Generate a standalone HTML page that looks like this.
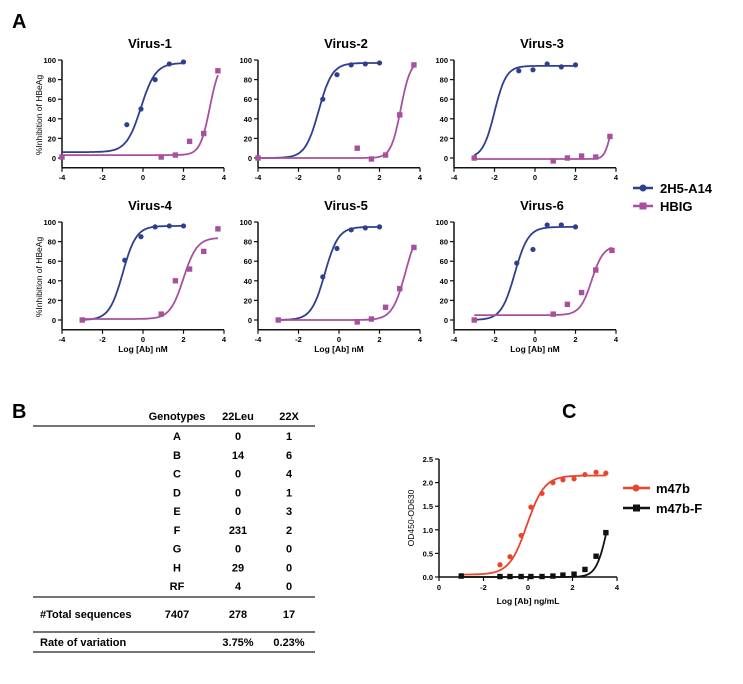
<!DOCTYPE html>
<html><head><meta charset="utf-8"><style>
body{margin:0;background:#fff;font-family:"Liberation Sans",Arial,sans-serif;}
svg text{font-family:"Liberation Sans",Arial,sans-serif;}
</style></head><body>
<svg id="fig" width="743" height="679" viewBox="0 0 743 679" xmlns="http://www.w3.org/2000/svg">
<text x="12" y="28" font-size="20" font-weight="bold">A</text>
<text x="12" y="418" font-size="20" font-weight="bold">B</text>
<text x="562" y="418" font-size="20" font-weight="bold">C</text>
<g id="pa"></g>
<g>
<line x1="633" y1="188" x2="653" y2="188" stroke="#2e3f8f" stroke-width="2.5"/><circle cx="643" cy="188" r="3.5" fill="#2e3f8f"/>
<text x="660" y="193" font-size="13" font-weight="bold">2H5-A14</text>
<line x1="633" y1="206" x2="653" y2="206" stroke="#a8509f" stroke-width="2.5"/><rect x="639.5" y="202.5" width="7" height="7" fill="#a8509f"/>
<text x="660" y="211" font-size="13" font-weight="bold">HBIG</text>
</g>
<g font-size="11" font-weight="bold">
<text x="177" y="420" text-anchor="middle">Genotypes</text><text x="238" y="420" text-anchor="middle">22Leu</text><text x="289" y="420" text-anchor="middle">22X</text>
<line x1="33" y1="426" x2="315" y2="426" stroke="#222" stroke-width="1.3"/>
<g id="rows"></g>
<line x1="33" y1="597" x2="315" y2="597" stroke="#222" stroke-width="1.3"/>
<text x="40" y="618">#Total sequences</text><text x="177" y="618" text-anchor="middle">7407</text><text x="238" y="618" text-anchor="middle">278</text><text x="289" y="618" text-anchor="middle">17</text>
<line x1="33" y1="632" x2="315" y2="632" stroke="#222" stroke-width="1.3"/>
<text x="40" y="646">Rate of variation</text><text x="238" y="646" text-anchor="middle">3.75%</text><text x="289" y="646" text-anchor="middle">0.23%</text>
<line x1="33" y1="652" x2="315" y2="652" stroke="#222" stroke-width="1.3"/>
</g>
<g id="pc"></g>
<g>
<line x1="623" y1="488" x2="650" y2="488" stroke="#e8452c" stroke-width="2.5"/><circle cx="636" cy="488" r="3.5" fill="#e8452c"/>
<text x="656" y="493" font-size="13" font-weight="bold">m47b</text>
<line x1="623" y1="508" x2="650" y2="508" stroke="#111" stroke-width="2.5"/><rect x="633" y="504.5" width="7" height="7" fill="#111"/>
<text x="656" y="513" font-size="13" font-weight="bold">m47b-F</text>
</g>
</svg>
<script>
const NS="http://www.w3.org/2000/svg";
const genotypes=["A","B","C","D","E","F","G","H","RF"];
const leu22=[0,14,0,0,0,231,0,29,4];
const x22=[1,6,4,1,3,2,0,0,0];
const titles=["Virus-1","Virus-2","Virus-3","Virus-4","Virus-5","Virus-6"];
const blueX=[[-0.8,-0.1,0.6,1.3,2.0],[-4,-0.8,-0.1,0.6,1.3,2.0],[-3,-0.8,-0.1,0.6,1.3,2.0],[-3,-0.9,-0.1,0.6,1.3,2.0],[-3,-0.8,-0.1,0.6,1.3,2.0],[-3,-0.9,-0.1,0.6,1.3,2.0]];
const blueY=[[34,50,80,96,98],[0,60,85,95,96,97],[0,89,90,96,93,95],[0,61,85,95,96,96],[0,44,73,92,94,95],[0,58,72,97,97,95]];
const magX=[[-4,0.9,1.6,2.3,3.0,3.7],[-4,0.9,1.6,2.3,3.0,3.7],[-3,0.9,1.6,2.3,3.0,3.7],[-3,0.9,1.6,2.3,3.0,3.7],[-3,0.9,1.6,2.3,3.0,3.7],[-3,0.9,1.6,2.3,3.0,3.8]];
const magY=[[1,1,3,17,25,89],[0,10,-1,3,44,95],[0,-3,0,2,1,22],[0,6,40,52,70,93],[0,-2,1,13,32,74],[0,6,16,28,51,71]];
// fit params [bottom, top, logEC50, hill, xmin, xmax]
const blueFit=[[6,97,-0.1,1.2,-4,2],[0,97,-1.0,1.3,-4,2],[0,94,-2.0,1.5,-3,2],[0,96,-1.0,1.3,-3,2],[0,95,-0.7,1.3,-3,2],[0,95,-1.0,1.3,-3,2]];
const magFit=[[3,100,3.3,1.8,-4,3.7],[0,100,3.05,1.8,-4,3.7],[-1,45,3.7,3,-3,3.7],[1,84,2.0,1.3,-3,3.7],[0,100,3.3,1.3,-3,3.7],[5,76,2.8,1.5,-3,3.8]];
const yTicksA=[0,20,40,60,80,100];
const xTicksA=[-4,-2,0,2,4];
const cRedX=[-3,-1.26,-0.81,-0.31,0.13,0.63,1.12,1.57,2.07,2.56,3.06,3.5];
const cRedY=[0.03,0.26,0.43,0.88,1.48,1.77,2.0,2.06,2.08,2.17,2.22,2.2];
const cBlkX=[-3,-1.26,-0.81,-0.31,0.13,0.63,1.12,1.57,2.07,2.56,3.06,3.5];
const cBlkY=[0.02,0.01,0.01,0.01,0.01,0.01,0.02,0.04,0.06,0.16,0.44,0.94];
const cRedFit=[0.05,2.15,-0.05,1.1,-3,3.5];
const cBlkFit=[0,2,3.55,1.8,-3,3.5];
const cYTicks=[0,0.5,1.0,1.5,2.0,2.5];
const cXTickVals=[-4,-2,0,2,4];
const cXTickLabels=["0","-2","0","2","4"];

function el(tag,attrs,parent,txt){const e=document.createElementNS(NS,tag);for(const k in attrs)e.setAttribute(k,attrs[k]);if(txt!==undefined)e.textContent=txt;parent.appendChild(e);return e;}
function f4(p,x){return p[0]+(p[1]-p[0])/(1+Math.pow(10,(p[2]-x)*p[3]));}

// table rows
const rows=document.getElementById('rows');
genotypes.forEach((g,i)=>{const y=440+i*18.75;
 const t1=el('text',{x:177,y:y,'text-anchor':'middle'},rows,g);
 
 
 el('text',{x:238,y:y,'text-anchor':'middle'},rows,leu22[i]);
 el('text',{x:289,y:y,'text-anchor':'middle'},rows,x22[i]);
});

// panel A
const pa=document.getElementById('pa');
const colX=[62,258,454], rowY=[60,222];
for(let k=0;k<6;k++){
 const c=k%3,r=Math.floor(k/3);
 const x0=colX[c], y100=rowY[r];
 const sx=v=>x0+(v+4)*162/8, sy=v=>y100+(100-v)*0.98;
 const g=el('g',{},pa);
 
 
 const tt=el('text',{x:x0+88,y:y100-12,'text-anchor':'middle','font-size':13,'font-weight':'bold'},g,titles[k]);
 
 
 const yb=sy(-10);
 el('line',{x1:x0,y1:sy(100),x2:x0,y2:yb,stroke:'#111','stroke-width':1.5},g);
 el('line',{x1:x0,y1:yb,x2:sx(4),y2:yb,stroke:'#111','stroke-width':1.5},g);
 yTicksA.forEach(v=>{el('line',{x1:x0-4,y1:sy(v),x2:x0,y2:sy(v),stroke:'#111','stroke-width':1.2},g);
  el('text',{x:x0-6,y:sy(v)+3,'text-anchor':'end','font-size':7.5,'font-weight':'bold'},g,v);});
 xTicksA.forEach(v=>{el('line',{x1:sx(v),y1:yb,x2:sx(v),y2:yb+4,stroke:'#111','stroke-width':1.2},g);
  el('text',{x:sx(v),y:yb+12,'text-anchor':'middle','font-size':7.5,'font-weight':'bold'},g,v);});
 [[blueFit[k],'#2e3f8f'],[magFit[k],'#a8509f']].forEach(([p,col])=>{
  let d='';for(let i=0;i<=120;i++){const x=p[4]+(p[5]-p[4])*i/120;d+=(i?'L':'M')+sx(x).toFixed(1)+','+sy(f4(p,x)).toFixed(1);}
  const pth=el('path',{d:d,fill:'none',stroke:col,'stroke-width':1.8},g);
  
  
 });
 blueX[k].forEach((x,i)=>{const cc=el('circle',{cx:sx(x),cy:sy(blueY[k][i]),r:2.6,fill:'#2e3f8f'},g);
  
  });
 magX[k].forEach((x,i)=>{const rr=el('rect',{x:sx(x)-2.7,y:sy(magY[k][i])-2.7,width:5.4,height:5.4,fill:'#a8509f'},g);
  
  });
 if(c===0){const yl=el('text',{x:0,y:0,transform:`translate(42,${y100+55}) rotate(-90)`,'text-anchor':'middle','font-size':8.5},g,'%Inhibition of HBeAg');
  
  }
 if(r===1){const xl=el('text',{x:x0+81,y:yb+22,'text-anchor':'middle','font-size':8.5,'font-weight':'bold'},g,'Log [Ab] nM');
  
  }
}

// panel C
const pc=document.getElementById('pc');
const cx0=439, cy0=577;
const csx=v=>cx0+(v+4)*22.25, csy=v=>cy0-v*47.2;
el('line',{x1:cx0,y1:csy(2.5),x2:cx0,y2:cy0,stroke:'#111','stroke-width':1.5},pc);
el('line',{x1:cx0,y1:cy0,x2:csx(4),y2:cy0,stroke:'#111','stroke-width':1.5},pc);
cYTicks.forEach(v=>{el('line',{x1:cx0-4,y1:csy(v),x2:cx0,y2:csy(v),stroke:'#111','stroke-width':1.2},pc);
 el('text',{x:cx0-6,y:csy(v)+3,'text-anchor':'end','font-size':7.5,'font-weight':'bold'},pc,v.toFixed(1));});
cXTickVals.forEach((v,i)=>{el('line',{x1:csx(v),y1:cy0,x2:csx(v),y2:cy0+4,stroke:'#111','stroke-width':1.2},pc);
 el('text',{x:csx(v),y:cy0+13,'text-anchor':'middle','font-size':7.5,'font-weight':'bold'},pc,cXTickLabels[i]);});
const cyl=el('text',{x:0,y:0,transform:'translate(414,518) rotate(-90)','text-anchor':'middle','font-size':8.5},pc,'OD450-OD630');


const cxl=el('text',{x:528,y:604,'text-anchor':'middle','font-size':8.5,'font-weight':'bold'},pc,'Log [Ab] ng/mL');


[[cRedFit,'#e8452c'],[cBlkFit,'#111']].forEach(([p,col])=>{
 let d='';for(let i=0;i<=120;i++){const x=p[4]+(p[5]-p[4])*i/120;d+=(i?'L':'M')+csx(x).toFixed(1)+','+csy(f4(p,x)).toFixed(1);}
 const pth=el('path',{d:d,fill:'none',stroke:col,'stroke-width':1.8},pc);
 
 
});
cRedX.forEach((x,i)=>{const cc=el('circle',{cx:csx(x),cy:csy(cRedY[i]),r:2.6,fill:'#e8452c'},pc);
 
 });
cBlkX.forEach((x,i)=>{const rr=el('rect',{x:csx(x)-2.7,y:csy(cBlkY[i])-2.7,width:5.4,height:5.4,fill:'#111'},pc);
 
 });
</script>
</body></html>
